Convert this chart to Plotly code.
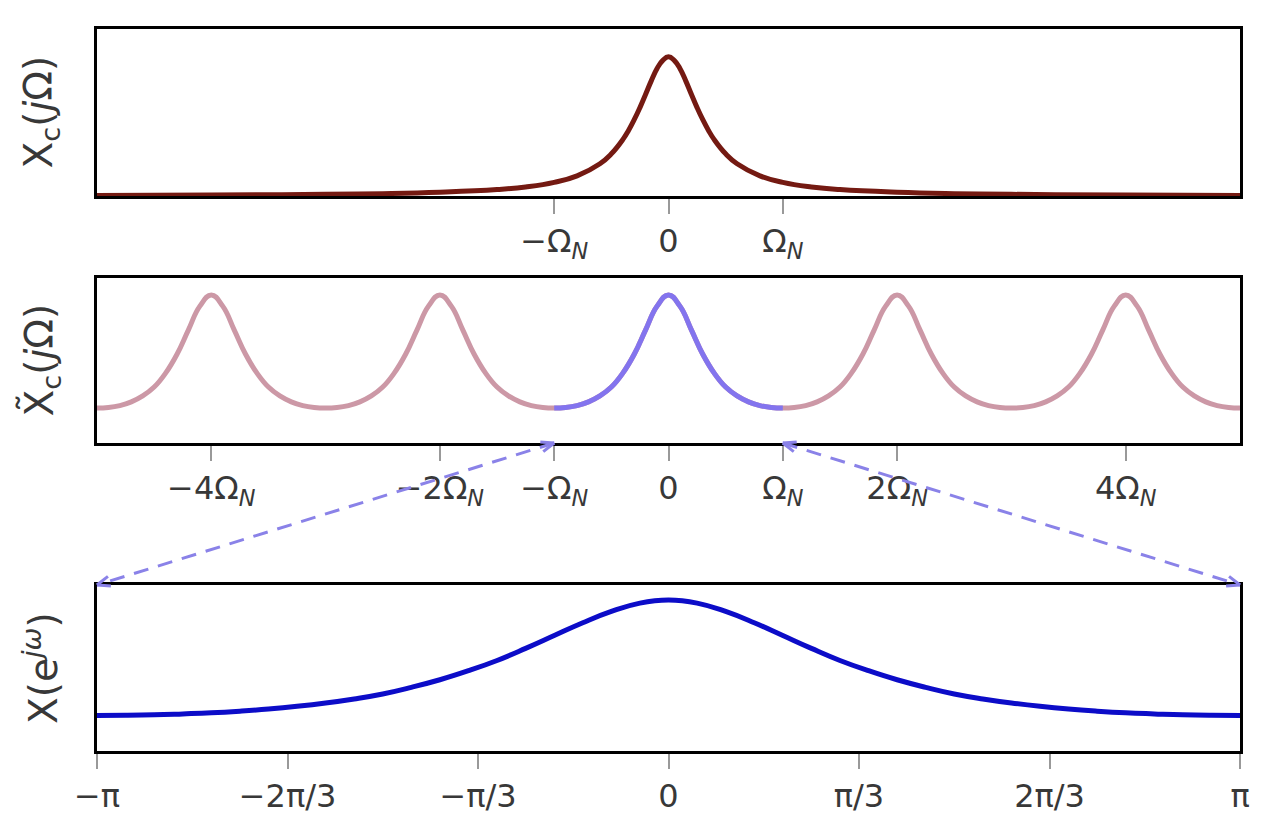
import plotly.graph_objects as go

# ---------------- data ----------------
# top panel: continuous spectrum, x in units of Omega_N
top_x = [-5.0, -4.0, -3.0, -2.5, -2.0, -1.5, -1.25, -1.0, -0.8, -0.6, -0.5, -0.4, -0.35, -0.3, -0.25, -0.2,
         -0.15, -0.1, -0.05, 0.0, 0.05, 0.1, 0.15, 0.2, 0.25, 0.3, 0.35, 0.4, 0.5, 0.6, 0.8, 1.0, 1.25, 1.5,
         2.0, 2.5, 3.0, 4.0, 5.0]
top_y = [0.004, 0.007, 0.012, 0.017, 0.027, 0.046, 0.065, 0.098, 0.145, 0.232, 0.303, 0.405, 0.471, 0.548,
         0.635, 0.731, 0.829, 0.916, 0.975, 1.000, 0.975, 0.916, 0.829, 0.731, 0.635, 0.548, 0.471, 0.405,
         0.303, 0.232, 0.145, 0.098, 0.065, 0.046, 0.027, 0.017, 0.012, 0.007, 0.004]
top_ticks = [-1, 0, 1]
top_ticktext = ["\u2212\u03a9<sub><i>N</i></sub>", "0", "\u03a9<sub><i>N</i></sub>"]

# middle panel: periodic spectrum, x in units of Omega_N (step 0.1 from -5 to 5)
mid_x = [round(-5.0 + 0.1 * i, 1) for i in range(101)]
mid_y = [0.236, 0.240, 0.253, 0.278, 0.318, 0.378, 0.472, 0.600, 0.765, 0.925,
         1.000, 0.925, 0.765, 0.600, 0.472, 0.378, 0.318, 0.278, 0.253, 0.240,
         0.236, 0.240, 0.253, 0.278, 0.318, 0.378, 0.472, 0.600, 0.765, 0.925,
         1.000, 0.925, 0.765, 0.600, 0.472, 0.378, 0.318, 0.278, 0.253, 0.240,
         0.236, 0.240, 0.253, 0.278, 0.318, 0.378, 0.472, 0.600, 0.765, 0.925,
         1.000, 0.925, 0.765, 0.600, 0.472, 0.378, 0.318, 0.278, 0.253, 0.240,
         0.236, 0.240, 0.253, 0.278, 0.318, 0.378, 0.472, 0.600, 0.765, 0.925,
         1.000, 0.925, 0.765, 0.600, 0.472, 0.378, 0.318, 0.278, 0.253, 0.240,
         0.236, 0.240, 0.253, 0.278, 0.318, 0.378, 0.472, 0.600, 0.765, 0.925,
         1.000, 0.925, 0.765, 0.600, 0.472, 0.378, 0.318, 0.278, 0.253, 0.240,
         0.236]
mid_ticks = [-4, -2, -1, 0, 1, 2, 4]
mid_ticktext = ["\u22124\u03a9<sub><i>N</i></sub>", "\u22122\u03a9<sub><i>N</i></sub>",
                "\u2212\u03a9<sub><i>N</i></sub>", "0", "\u03a9<sub><i>N</i></sub>",
                "2\u03a9<sub><i>N</i></sub>", "4\u03a9<sub><i>N</i></sub>"]
band = [-1, 1]  # highlighted baseband, units of Omega_N

# bottom panel: discrete-time spectrum, omega in units of pi
bot_w = [-1.0, -0.95, -0.9, -0.85, -0.8, -0.75, -0.7, -0.65, -0.6, -0.55, -0.5, -0.45, -0.4, -0.35,
         -0.3, -0.25, -0.2, -0.15, -0.1, -0.05, 0.0, 0.05, 0.1, 0.15, 0.2, 0.25, 0.3, 0.35, 0.4,
         0.45, 0.5, 0.55, 0.6, 0.65, 0.7, 0.75, 0.8, 0.85, 0.9, 0.95, 1.0]
bot_y = [0.236, 0.237, 0.240, 0.246, 0.253, 0.264, 0.278, 0.296, 0.318, 0.345, 0.378, 0.422, 0.472, 0.532,
         0.600, 0.680, 0.765, 0.850, 0.925, 0.980, 1.000, 0.980, 0.925, 0.850, 0.765, 0.680, 0.600, 0.532, 0.472,
         0.422, 0.378, 0.345, 0.318, 0.296, 0.278, 0.264, 0.253, 0.246, 0.240, 0.237, 0.236]
bot_ticks = [-1, -2 / 3, -1 / 3, 0, 1 / 3, 2 / 3, 1]
bot_ticktext = ["\u2212\u03c0", "\u22122\u03c0/3", "\u2212\u03c0/3", "0", "\u03c0/3", "2\u03c0/3", "\u03c0"]

titles = ["X<sub>c</sub>(<i>j</i>\u03a9)", "X\u0303<sub>c</sub>(<i>j</i>\u03a9)", "X(e<sup><i>j\u03c9</i></sup>)"]

# ---------------- style / layout ----------------
# the page body has an 8px margin, so the figure is 8px smaller than the window
W, H = 1256, 822
ML, MR, MT, MB = 89, 24, 21, 79
FONT = "DejaVu Sans"
dom_top = [0.7687, 1.0]
dom_mid = [0.4266, 0.6551]
dom_bot = [0.0, 0.2299]
rng_x_top = [-5, 5]
rng_x_mid = [-5, 5]
rng_x_bot = [-1, 1]
LW = 5
SM = 1.3

fig = go.Figure()
fig.add_trace(go.Scatter(x=top_x, y=top_y, mode="lines",
                         line=dict(color="#741a12", width=LW, shape="spline", smoothing=SM),
                         xaxis="x", yaxis="y", showlegend=False))
fig.add_trace(go.Scatter(x=mid_x, y=mid_y, mode="lines",
                         line=dict(color="#cc98a6", width=LW, shape="spline", smoothing=SM),
                         xaxis="x2", yaxis="y2", showlegend=False))
bx = [x for x in mid_x if band[0] <= x <= band[1]]
by = [y for x, y in zip(mid_x, mid_y) if band[0] <= x <= band[1]]
fig.add_trace(go.Scatter(x=bx, y=by, mode="lines",
                         line=dict(color="#8374ee", width=LW, shape="spline", smoothing=SM),
                         xaxis="x2", yaxis="y2", showlegend=False))
fig.add_trace(go.Scatter(x=bot_w, y=bot_y, mode="lines",
                         line=dict(color="#0c0cc8", width=LW, shape="spline", smoothing=SM),
                         xaxis="x3", yaxis="y3", showlegend=False))

xcommon = dict(showline=True, linecolor="black", linewidth=2.5, mirror=True, showgrid=False, zeroline=False,
               ticks="outside", ticklen=15, tickwidth=1.5, tickcolor="#999999",
               tickfont=dict(size=32, color="#383838", family=FONT), ticklabelstandoff=0,
               layer="below traces")
ycommon = dict(showline=True, linecolor="black", linewidth=2.5, mirror=True, showgrid=False, zeroline=False,
               showticklabels=False, ticks="", layer="below traces")

fig.update_layout(
    width=W, height=H, margin=dict(l=ML, r=MR, t=MT, b=MB),
    paper_bgcolor="white", plot_bgcolor="white",
    xaxis=dict(domain=[0, 1], anchor="y", range=rng_x_top, tickvals=top_ticks, ticktext=top_ticktext, **xcommon),
    yaxis=dict(domain=dom_top, anchor="x", range=[0, 1.2], **ycommon),
    xaxis2=dict(domain=[0, 1], anchor="y2", range=rng_x_mid, tickvals=mid_ticks, ticktext=mid_ticktext, **xcommon),
    yaxis2=dict(domain=dom_mid, anchor="x2", range=[0, 1.115], **ycommon),
    xaxis3=dict(domain=[0, 1], anchor="y3", range=rng_x_bot, tickvals=bot_ticks, ticktext=bot_ticktext, **xcommon),
    yaxis3=dict(domain=dom_bot, anchor="x3", range=[0, 1.1], **ycommon),
)

# y-axis titles
for dom, t in zip([dom_top, dom_mid, dom_bot], titles):
    fig.add_annotation(text=t, xref="paper", yref="paper", x=0, y=(dom[0] + dom[1]) / 2,
                       xshift=-56, xanchor="center", yanchor="middle", textangle=-90, showarrow=False,
                       font=dict(size=39, color="#383838", family=FONT))

# dashed double-headed arrows from the baseband edges to the ends of the bottom panel
PW, PH = W - ML - MR, H - MT - MB


def xpaper(v, rng):
    return (v - rng[0]) / (rng[1] - rng[0])


arrow_col = "#8a82e8"
for edge, wend in [(band[0], rng_x_bot[0]), (band[1], rng_x_bot[1])]:
    x0, y0 = xpaper(edge, rng_x_mid), dom_mid[0]
    x1, y1 = xpaper(wend, rng_x_bot), dom_bot[1]
    fig.add_shape(type="line", xref="paper", yref="paper", x0=x0, y0=y0, x1=x1, y1=y1,
                  line=dict(color=arrow_col, width=3, dash="15px,10px"), layer="above")
    # arrow heads (open V) at both ends
    dxp, dyp = (x1 - x0) * PW, (y1 - y0) * PH
    L = (dxp ** 2 + dyp ** 2) ** 0.5
    ux, uy = dxp / L, dyp / L
    hl, hw = 13, 5
    for (tx, ty, sx, sy) in [(x1, y1, ux, uy), (x0, y0, -ux, -uy)]:
        for sgn in (1, -1):
            bxp = -sx * hl + sgn * (-sy) * hw
            byp = -sy * hl + sgn * sx * hw
            fig.add_shape(type="line", xref="paper", yref="paper", x0=tx, y0=ty,
                          x1=tx + bxp / PW, y1=ty + byp / PH,
                          line=dict(color=arrow_col, width=3), layer="above")

fig.write_html("out.html")
